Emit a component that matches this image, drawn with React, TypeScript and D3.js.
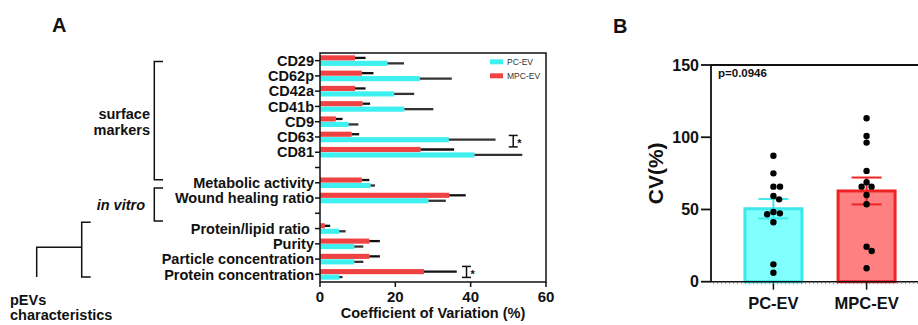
import * as d3 from 'd3';

// panel A
const slots = [
  'CD29', 'CD62p', 'CD42a', 'CD41b', 'CD9', 'CD63', 'CD81', 'gap1',
  'Metabolic activity', 'Wound healing ratio', 'gap2',
  'Protein/lipid ratio ', 'Purity', 'Particle concentration', 'Protein concentration',
];
const categories = slots.filter((s) => !s.startsWith('gap'));
const pcMeans = [17.9, 26.5, 19.7, 22.4, 7.6, 34.2, 41.0, 13.4, 28.8, 5.1, 9.1, 9.1, 5.1];
const pcSD = [4.4, 8.5, 5.3, 7.7, 2.6, 12.4, 12.7, 1.2, 4.6, 1.7, 2.4, 2.4, 0.9];
const mpcMeans = [9.3, 11.1, 9.3, 11.3, 4.2, 8.4, 26.7, 11.1, 34.3, 1.3, 13.1, 13.1, 27.6];
const mpcSD = [2.8, 3.1, 2.8, 2.0, 1.8, 2.0, 8.9, 2.0, 4.4, 1.4, 2.8, 2.8, 8.7];
const xTicksA = [0, 20, 40, 60];
const sigMarks = [
  { cat: 'CD63', x: 51.3, from: -0.1, to: 0.65 },
  { cat: 'Protein concentration', x: 38.9, from: -0.52, to: 0.2 },
];

// panel B
const groups = ['PC-EV', 'MPC-EV'];
const groupMeans = [50.5, 62.8];
const groupSem = [6.7, 9.3];
const pcDots = [87.2, 75.0, 65.8, 65.8, 59.3, 57.0, 48.2, 47.3, 46.7, 41.1, 12.0, 6.2];
const mpcDots = [113.1, 100.9, 96.3, 76.7, 68.8, 65.8, 65.8, 60.0, 53.6, 24.2, 21.3, 9.3];
const yTicksB = [0, 50, 100, 150];

const CYAN = '#3ef0f0';
const RED = '#ef4343';
const FONT = '"Liberation Sans", Arial, sans-serif';

// simple greedy beeswarm, returns x offsets
function swarm(ys: number[], d: number) {
  const placed: { x: number; y: number }[] = [];
  const order = ys.map((y, i) => i).sort((a, b) => ys[a] - ys[b]);
  const out: number[] = new Array(ys.length).fill(0);
  for (const i of order) {
    const y = ys[i];
    const cands = [0];
    placed.forEach((p) => {
      const dy = Math.abs(p.y - y);
      if (dy < d) {
        const dx = Math.sqrt(d * d - dy * dy);
        cands.push(p.x + dx, p.x - dx);
      }
    });
    cands.sort((a, b) => Math.abs(a) - Math.abs(b));
    const ok = cands.find((c) => placed.every((p) => Math.hypot(p.x - c, p.y - y) >= d - 0.01)) ?? 0;
    placed.push({ x: ok, y });
    out[i] = ok;
  }
  return out;
}

export default function App() {
  const width = 918;
  const height = 325;

  const x = d3.scaleLinear().domain([0, 60]).range([320, 546]);
  const y = d3.scalePoint().domain(slots).range([53, 282]).padding(0.5);
  const step = y.step();
  const yc = (c: string) => y(c) ?? 0;
  const barH = 5;
  const sub = d3.scaleBand().domain(['MPC-EV', 'PC-EV']).range([-barH - 0.3, barH + 0.3]).paddingInner(0.06);

  const yB = d3.scaleLinear().domain([0, 150]).range([281.7, 65]);
  const xB = d3.scalePoint().domain(groups).range([711, 929]).padding(0.67);
  const dotSets = [pcDots, mpcDots];

  const label = { fontFamily: FONT, fontWeight: 700, fill: '#111' } as const;

  return (
    <svg width={width} height={height} style={{ position: 'absolute', left: 0, top: 0 }} viewBox={`0 0 ${width} ${height}`}>
      <rect width={width} height={height} fill="#fff" />
      <text x={52} y={32} {...label} fontSize={20}>A</text>
      <text x={613} y={33} {...label} fontSize={20}>B</text>

      {/* bars A */}
      {categories.map((c, i) => {
        const cy = yc(c);
        const rows = [
          { key: 'MPC-EV', v: mpcMeans[i], e: mpcSD[i], fill: RED, err: '#111' },
          { key: 'PC-EV', v: pcMeans[i], e: pcSD[i], fill: CYAN, err: '#333' },
        ];
        return (
          <g key={c}>
            {rows.map((r) => {
              const top = cy + (sub(r.key) ?? 0);
              const bw = sub.bandwidth();
              return (
                <g key={r.key}>
                  <rect x={x(0)} y={top} width={x(r.v) - x(0)} height={bw} fill={r.fill} />
                  <line x1={x(r.v)} x2={x(r.v + r.e)} y1={top + bw / 2} y2={top + bw / 2} stroke={r.err} strokeWidth={2.3} />
                </g>
              );
            })}
          </g>
        );
      })}

      {/* frame A */}
      <path d={`M${x(0)},53 V282 H${x(60)} V53 Z`} fill="none" stroke="#111" strokeWidth={1.5} />
      {slots.map((s) => (
        <g key={s}>
          <line x1={x(0) - 5} x2={x(0)} y1={yc(s)} y2={yc(s)} stroke="#111" strokeWidth={1.5} />
          {!s.startsWith('gap') && (
            <text x={314} y={yc(s)} dy="0.36em" textAnchor="end" {...label} fontSize={14.5} style={{ whiteSpace: 'pre' }}>
              {s}
            </text>
          )}
        </g>
      ))}
      {xTicksA.map((t) => (
        <g key={t}>
          <line x1={x(t)} x2={x(t)} y1={282} y2={287} stroke="#111" strokeWidth={1.5} />
          <text x={x(t)} y={302} textAnchor="middle" {...label} fontSize={15}>{t}</text>
        </g>
      ))}
      <text x={(x(0) + x(60)) / 2} y={318} textAnchor="middle" {...label} fontSize={14.5}>
        Coefficient of Variation (%)
      </text>

      {/* legend */}
      <rect x={490} y={59.3} width={13} height={5} fill={CYAN} />
      <text x={507} y={62} dy="0.35em" fontFamily={FONT} fontSize={8.5} fill="#333">PC-EV</text>
      <rect x={490} y={73.3} width={13} height={5} fill={RED} />
      <text x={507} y={76} dy="0.35em" fontFamily={FONT} fontSize={8.5} fill="#333">MPC-EV</text>

      {/* significance */}
      {sigMarks.map((m) => {
        const y1 = yc(m.cat) + m.from * step;
        const y2 = yc(m.cat) + m.to * step;
        const mx = x(m.x);
        return (
          <g key={m.cat} stroke="#111" strokeWidth={1.5}>
            <line x1={mx} x2={mx} y1={y1} y2={y2} />
            <line x1={mx - 4.5} x2={mx + 4.5} y1={y1} y2={y1} />
            <line x1={mx - 4.5} x2={mx + 4.5} y1={y2} y2={y2} />
            <text x={mx + 4} y={(y1 + y2) / 2 + 6} stroke="none" {...label} fontSize={11}>*</text>
          </g>
        );
      })}

      {/* group brackets */}
      <g stroke="#111" strokeWidth={1.5} fill="none">
        <path d={`M163,${yc('CD29') + 0.05 * step} H154.3 V${yc('Metabolic activity') - 0.2 * step} H163`} />
        <path d={`M163,${yc('Metabolic activity') + 0.35 * step} H154.3 V${yc('Protein/lipid ratio ') - 0.5 * step} H163`} />
        <path d={`M90.7,${yc('Protein/lipid ratio ') - 0.42 * step} H81.7 V${yc('Protein concentration') + 0.18 * step} H90.7`} />
        <path d={`M81.7,247.3 H36.7 V${yc('Protein concentration') + 0.18 * step}`} />
      </g>
      <text x={150} y={yc('CD9') - 8.3} dy="0.36em" textAnchor="end" {...label} fontSize={14.5}>surface</text>
      <text x={150} y={yc('CD9') + 8.3} dy="0.36em" textAnchor="end" {...label} fontSize={14.5}>markers</text>
      <text x={145} y={205} dy="0.36em" textAnchor="end" {...label} fontSize={14.5} fontStyle="italic">in vitro</text>
      <text x={10} y={300} dy="0.36em" {...label} fontSize={14.5}>pEVs</text>
      <text x={10} y={315} dy="0.36em" {...label} fontSize={14.5}>characteristics</text>

      {/* panel B */}
      {groups.map((g, i) => {
        const cx = xB(g) ?? 0;
        const isPc = i === 0;
        const fill = isPc ? '#80ffff' : '#ff8080';
        const stroke = isPc ? '#3de8e8' : '#ee2424';
        const m = groupMeans[i];
        const s = groupSem[i];
        const ys = dotSets[i].map((v) => yB(v));
        const offs = swarm(ys, 6.6);
        return (
          <g key={g}>
            <rect x={cx - 28.5} y={yB(m)} width={57} height={yB(0) - yB(m)} fill={fill} stroke={stroke} strokeWidth={3} />
            <g stroke={stroke} strokeWidth={2}>
              <line x1={cx} x2={cx} y1={yB(m - s)} y2={yB(m + s)} />
              <line x1={cx - 15} x2={cx + 15} y1={yB(m + s)} y2={yB(m + s)} />
              <line x1={cx - 15} x2={cx + 15} y1={yB(m - s)} y2={yB(m - s)} />
            </g>
            {ys.map((yy, j) => (
              <circle key={j} cx={cx + offs[j]} cy={yy} r={3.2} fill="#000" />
            ))}
            <line x1={cx} x2={cx} y1={yB(0)} y2={yB(0) + 8} stroke="#111" strokeWidth={1.5} />
            <text x={cx} y={309} textAnchor="middle" {...label} fontSize={16.5}>{g}</text>
          </g>
        );
      })}
      <line x1={711} x2={width} y1={yB(150)} y2={yB(150)} stroke="#111" strokeWidth={2} />
      <line x1={711} x2={711} y1={yB(150)} y2={yB(0)} stroke="#111" strokeWidth={1.8} />
      <line x1={711} x2={width} y1={yB(0)} y2={yB(0)} stroke="#111" strokeWidth={1.5} />
      <line x1={713} x2={width} y1={yB(0) + 1.6} y2={yB(0) + 1.6} stroke="#777" strokeWidth={1} strokeDasharray="1 3" />
      {yTicksB.map((t) => (
        <g key={t}>
          <line x1={701} x2={711} y1={yB(t)} y2={yB(t)} stroke="#111" strokeWidth={1.8} />
          <text x={699} y={yB(t)} dy="0.36em" textAnchor="end" {...label} fontSize={16}>{t}</text>
        </g>
      ))}
      <text x={718} y={77.4} {...label} fontSize={11.5}>p=0.0946</text>
      <text transform={`translate(655,${(yB(0) + yB(150)) / 2}) rotate(-90)`} textAnchor="middle" dy="0.36em" {...label} fontSize={21}>
        CV(%)
      </text>
    </svg>
  );
}
